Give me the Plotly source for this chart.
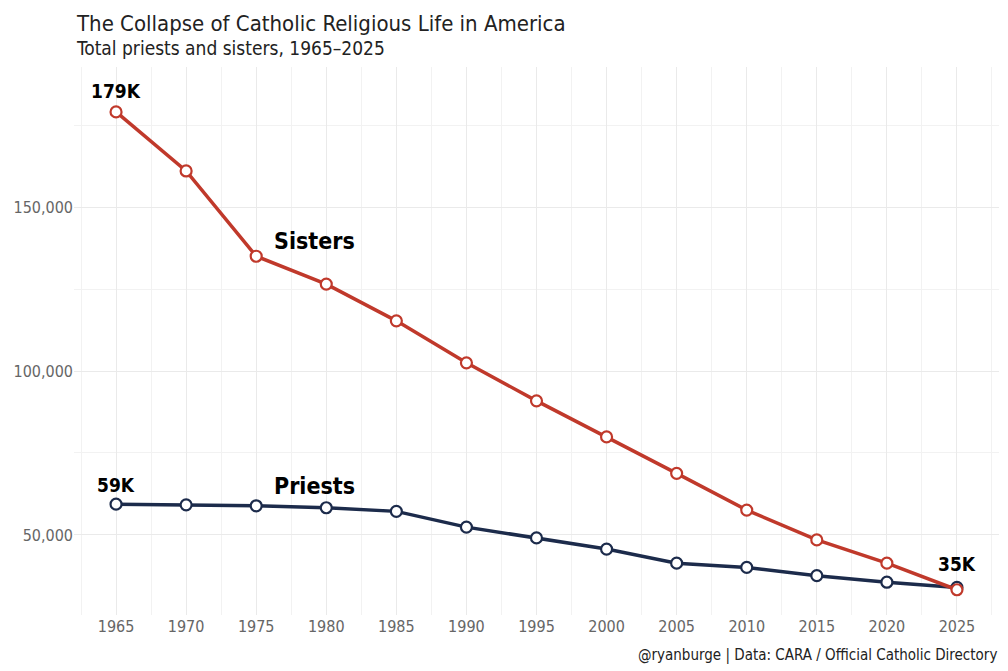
import plotly.graph_objects as go

# data
years = [1965, 1970, 1975, 1980, 1985, 1990, 1995, 2000, 2005, 2010, 2015, 2020, 2025]
sisters = [179000, 161000, 135000, 126500, 115300, 102500, 90900, 79900, 68800, 57600, 48500, 41400, 33300]
priests = [59400, 59200, 58900, 58300, 57200, 52400, 49100, 45700, 41400, 40100, 37600, 35600, 34000]

sister_color = "#C0392B"
priest_color = "#1C2B4B"
font_family = "DejaVu Sans Condensed, Roboto, sans-serif"

fig = go.Figure()

# priests first so the sisters marker sits on top at 2025
for name, vals, col in [("Priests", priests, priest_color), ("Sisters", sisters, sister_color)]:
    fig.add_trace(go.Scatter(
        x=years, y=vals, name=name,
        mode="lines+markers",
        line=dict(color=col, width=3.5),
        marker=dict(size=11, color="white", line=dict(color=col, width=2.2)),
        showlegend=False,
    ))

# end labels and series names
lab = dict(font=dict(family=font_family, size=19, color="black"), showarrow=False)
fig.add_annotation(x=years[0], y=sisters[0], text="<b>179K</b>", yshift=21, **lab)
fig.add_annotation(x=years[0], y=priests[0], text="<b>59K</b>", yshift=19, **lab)
fig.add_annotation(x=years[-1], y=priests[-1], text="<b>35K</b>", yshift=23, **lab)
fig.add_annotation(x=1976.1, y=sisters[2], text="<b>Sisters</b>", xanchor="left", yshift=15,
                   font=dict(family=font_family, size=23, color="black"), showarrow=False)
fig.add_annotation(x=1976.1, y=priests[2], text="<b>Priests</b>", xanchor="left", yshift=20,
                   font=dict(family=font_family, size=23, color="black"), showarrow=False)

# title, subtitle, caption
txt = dict(xref="paper", yref="paper", showarrow=False)
fig.add_annotation(x=0.0, y=1.105, xanchor="left", yanchor="top",
                   text="The Collapse of Catholic Religious Life in America",
                   font=dict(family=font_family, size=22, color="#222222"), **txt)
fig.add_annotation(x=0.0, y=1.035, xanchor="left", yanchor="middle",
                   text="Total priests and sisters, 1965\u20132025",
                   font=dict(family=font_family, size=19, color="#222222"), **txt)
fig.add_annotation(x=1.0, y=-0.073, xanchor="right", yanchor="middle",
                   text="@ryanburge | Data: CARA / Official Catholic Directory",
                   font=dict(family=font_family, size=15, color="#222222"), **txt)

# page body has an 8px margin, so the figure is 8px smaller to fill the window
fig.update_layout(
    width=1000, height=663,
    margin=dict(l=66, r=9, t=59, b=56),
    plot_bgcolor="white", paper_bgcolor="white",
    font=dict(family=font_family, color="#555555"),
)

fig.update_xaxes(
    range=[1962, 2028], tickvals=years, ticktext=[str(y) for y in years],
    showgrid=True, gridcolor="#EAEAEA", gridwidth=1.3,
    minor=dict(dtick=5, tick0=1962.5, showgrid=True, gridcolor="#F2F2F2", gridwidth=1),
    zeroline=False, showline=False, ticks="", automargin=False,
    tickfont=dict(size=16, color="#666666"),
)
fig.update_yaxes(
    range=[25600, 192700], tickvals=[50000, 100000, 150000],
    ticktext=["50,000", "100,000", "150,000"],
    showgrid=True, gridcolor="#EAEAEA", gridwidth=1.3,
    minor=dict(tickvals=[75000, 125000, 175000], showgrid=True, gridcolor="#F2F2F2", gridwidth=1),
    zeroline=False, showline=False, ticks="", automargin=False,
    tickfont=dict(size=16, color="#666666"),
)

fig.write_html("out.html")
